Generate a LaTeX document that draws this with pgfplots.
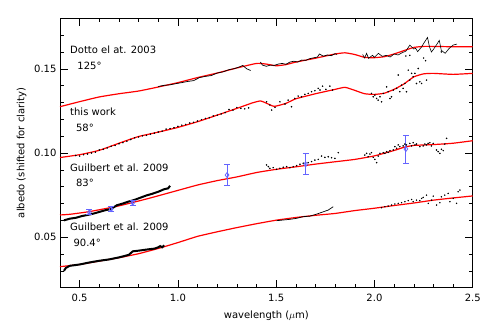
\documentclass[border=0pt]{standalone}
\usepackage{fontspec}
\setmainfont{DejaVu Sans}
\usepackage{pgfplots}
\pgfplotsset{compat=1.18}
\usetikzlibrary{calc}
\definecolor{modelred}{HTML}{FF0000}
\definecolor{obsblue}{HTML}{6464FF}

\begin{document}
\begin{tikzpicture}
\begin{axis}[
  scale only axis,
  width=412.7pt, height=269.4pt,
  xmin=0.4, xmax=2.5, ymin=0.02, ymax=0.18,
  xtick={0.5,1.0,1.5,2.0,2.5},
  minor xtick={0.4,0.6,0.7,0.8,0.9,1.1,1.2,1.3,1.4,1.6,1.7,1.8,1.9,2.1,2.2,2.3,2.4},
  ytick={0.05,0.10,0.15},
  minor ytick={0.02,0.03,0.04,0.06,0.07,0.08,0.09,0.11,0.12,0.13,0.14,0.16,0.17},
  tick align=inside,
  major tick length=8pt, minor tick length=4pt,
  every tick/.style={black, line width=0.5pt},
  axis line style={line width=0.6pt},
  /pgf/number format/assume math mode=true,
  xticklabel style={/pgf/number format/.cd, fixed, fixed zerofill, precision=1, /tikz/.cd, yshift=-3pt},
  yticklabel style={/pgf/number format/.cd, fixed, fixed zerofill, precision=2},
  xlabel={wavelength ($\mu$m)},
  ylabel={albedo (shifted for clarity)},
  xlabel style={at={(axis description cs:0.5,0)}, anchor=center, yshift=-28pt},
  ylabel style={at={(axis description cs:-0.093,0.5)}, anchor=center},
  clip=false,
]

% model curves
\addplot[modelred, line width=1.2pt, smooth, tension=0.3] coordinates {
(0.40,0.1275)(0.50,0.1305)(0.60,0.1333)(0.70,0.1352)(0.80,0.1368)(0.90,0.1392)
(1.00,0.1418)(1.10,0.1448)(1.20,0.1475)(1.30,0.1505)(1.40,0.1532)(1.45,0.1528)
(1.50,0.1518)(1.55,0.1525)(1.60,0.1540)(1.70,0.1563)(1.80,0.1588)(1.85,0.1595)
(1.90,0.1585)(1.95,0.1568)(2.00,0.1566)(2.05,0.1572)(2.10,0.1588)(2.15,0.1608)
(2.20,0.1627)(2.25,0.1633)(2.30,0.1633)(2.40,0.1631)(2.50,0.1631)};
\addplot[modelred, line width=1.2pt, smooth, tension=0.3] coordinates {
(0.40,0.0973)(0.50,0.0990)(0.60,0.1016)(0.70,0.1058)(0.80,0.1098)(0.90,0.1124)
(1.00,0.1152)(1.10,0.1186)(1.20,0.1225)(1.30,0.1265)(1.38,0.1298)(1.42,0.1309)
(1.45,0.1296)(1.49,0.1277)(1.55,0.1295)(1.60,0.1322)(1.70,0.1352)(1.80,0.1378)
(1.85,0.1390)(1.90,0.1372)(1.95,0.1352)(2.00,0.1348)(2.05,0.1355)(2.10,0.1378)
(2.15,0.1410)(2.20,0.1452)(2.25,0.1470)(2.30,0.1473)(2.40,0.1467)(2.50,0.1473)};
\addplot[modelred, line width=1.2pt, smooth, tension=0.3] coordinates {
(0.40,0.0632)(0.45,0.0636)(0.55,0.0652)(0.70,0.0686)(0.85,0.0730)(1.00,0.0778)
(1.10,0.0810)(1.20,0.0836)(1.30,0.0858)(1.40,0.0884)(1.50,0.0903)(1.60,0.0918)
(1.70,0.0934)(1.80,0.0948)(1.90,0.0962)(2.00,0.0983)(2.10,0.1015)(2.15,0.1034)
(2.20,0.1045)(2.30,0.1050)(2.40,0.1058)(2.50,0.1073)};
\addplot[modelred, line width=1.2pt, smooth, tension=0.3] coordinates {
(0.40,0.0325)(0.50,0.0338)(0.60,0.0358)(0.70,0.0378)(0.80,0.0402)(0.90,0.0433)
(1.00,0.0468)(1.10,0.0505)(1.20,0.0532)(1.30,0.0557)(1.40,0.0580)(1.50,0.0601)
(1.60,0.0617)(1.70,0.0630)(1.80,0.0641)(1.90,0.0658)(2.00,0.0672)(2.10,0.0688)
(2.20,0.0703)(2.30,0.0720)(2.40,0.0733)(2.50,0.0745)};

% Dotto et al. 2003 data
\addplot[black, line width=0.7pt] coordinates {
(0.90,0.1395)(0.93,0.1402)(0.96,0.1405)(0.99,0.1412)(1.02,0.1418)(1.05,0.1425)
(1.08,0.1430)(1.11,0.1448)(1.14,0.1455)(1.17,0.1460)(1.20,0.1475)(1.23,0.1482)
(1.26,0.1495)(1.29,0.1502)(1.31,0.1510)(1.33,0.1520)(1.35,0.1500)(1.37,0.1490)};
\addplot[black, line width=0.7pt] coordinates {
(1.42,0.1540)(1.43,0.1522)(1.45,0.1515)(1.47,0.1522)(1.49,0.1520)(1.51,0.1528)
(1.53,0.1532)(1.55,0.1527)(1.57,0.1540)(1.59,0.1545)(1.61,0.1540)(1.63,0.1552)
(1.65,0.1550)(1.67,0.1560)(1.69,0.1565)(1.71,0.1570)(1.72,0.1588)(1.74,0.1575)
(1.76,0.1582)(1.78,0.1578)(1.80,0.1590)(1.81,0.1585)};
\addplot[black, line width=0.6pt] coordinates {
(1.94,0.1585)(1.95,0.1564)(1.96,0.1592)(1.97,0.1562)(1.99,0.1580)(2.00,0.1568)
(2.02,0.1592)(2.04,0.1574)(2.06,0.1580)(2.08,0.1570)(2.10,0.1588)(2.12,0.1582)
(2.14,0.1595)(2.16,0.1605)(2.18,0.1641)(2.20,0.1618)(2.21,0.1621)(2.22,0.1602)
(2.24,0.1630)(2.25,0.1650)(2.27,0.1686)(2.28,0.1631)(2.29,0.1600)(2.30,0.1615)
(2.32,0.1650)(2.33,0.1669)(2.34,0.1610)(2.36,0.1592)(2.38,0.1621)(2.40,0.1641)
(2.42,0.1647)};
\addplot[black, only marks, mark=*, mark size=0.5pt] coordinates {
(2.16,0.1576)(2.18,0.1580)(2.25,0.1564)(2.26,0.1548)(2.34,0.1600)};

% this work data
\addplot[black, only marks, mark=*, mark size=0.55pt] coordinates {
(0.48,0.0985)(0.50,0.0982)(0.52,0.0990)(0.54,0.0994)(0.56,0.1000)(0.58,0.1005)
(0.60,0.1018)(0.62,0.1022)(0.64,0.1030)(0.66,0.1040)(0.68,0.1045)(0.70,0.1055)
(0.72,0.1062)(0.74,0.1070)(0.76,0.1080)(0.78,0.1090)(0.80,0.1095)(0.82,0.1102)
(0.84,0.1105)(0.86,0.1112)(0.88,0.1118)(0.90,0.1125)(0.92,0.1130)(0.94,0.1142)
(0.96,0.1145)(0.98,0.1150)(1.00,0.1158)(1.02,0.1165)(1.04,0.1170)(1.06,0.1178)
(1.08,0.1182)(1.10,0.1190)(1.12,0.1198)(1.14,0.1205)(1.16,0.1210)(1.18,0.1220)
(1.20,0.1225)(1.22,0.1232)(1.24,0.1240)(1.26,0.1258)(1.28,0.1255)(1.30,0.1270)
(1.32,0.1265)(1.34,0.1262)(1.36,0.1268)
(1.451,0.1304)(1.468,0.1285)(1.477,0.1255)(1.494,0.1271)(1.519,0.1304)(1.545,0.1291)
(1.561,0.1314)(1.578,0.1275)(1.595,0.1324)(1.612,0.1338)(1.629,0.1334)(1.646,0.1348)
(1.663,0.1354)(1.680,0.1364)(1.697,0.1370)(1.714,0.1384)(1.723,0.1374)(1.736,0.1397)
(1.753,0.1378)(1.773,0.1397)(1.787,0.1374)
(1.985,0.1354)(1.994,0.1334)(2.002,0.1344)(2.011,0.1324)(2.019,0.1314)(2.028,0.1334)
(2.036,0.1304)(2.045,0.1354)(2.062,0.1393)(2.070,0.1364)(2.079,0.1324)(2.087,0.1334)
(2.096,0.1374)(2.113,0.1384)(2.121,0.1463)(2.129,0.1364)(2.138,0.1403)(2.146,0.1384)
(2.155,0.1413)(2.163,0.1364)(2.172,0.1492)(2.180,0.1433)(2.189,0.1473)(2.197,0.1453)
(2.206,0.1473)(2.214,0.1413)(2.223,0.1502)(2.231,0.1423)(2.240,0.1413)(2.265,0.1433)};

% Guilbert et al. 2009, 83 deg
\addplot[black, line width=2pt] coordinates {
(0.42,0.0600)(0.45,0.0610)(0.48,0.0615)(0.51,0.0625)(0.54,0.0632)(0.57,0.0640)
(0.60,0.0650)(0.63,0.0660)(0.66,0.0668)(0.69,0.0690)(0.72,0.0700)(0.75,0.0712)
(0.78,0.0722)(0.81,0.0735)(0.84,0.0748)(0.87,0.0758)(0.90,0.0770)(0.93,0.0785)
(0.95,0.0790)(0.96,0.0805)};
\addplot[black, only marks, mark=*, mark size=0.55pt] coordinates {
(1.451,0.0929)(1.460,0.0919)(1.468,0.0909)(1.485,0.0913)(1.502,0.0903)(1.519,0.0909)
(1.536,0.0915)(1.553,0.0919)(1.570,0.0913)(1.587,0.0919)(1.604,0.0925)(1.621,0.0933)
(1.638,0.0939)(1.663,0.0943)(1.680,0.0949)(1.697,0.0958)(1.714,0.0962)(1.731,0.0982)
(1.748,0.0974)(1.765,0.0978)(1.782,0.0972)(1.799,0.0968)(1.816,0.1002)
(1.951,0.0988)(1.960,0.0998)(1.968,0.0978)(1.977,0.0994)(1.985,0.1002)(1.994,0.0974)
(2.002,0.0962)(2.011,0.0943)(2.019,0.0982)(2.028,0.0998)(2.045,0.1002)(2.053,0.0998)
(2.062,0.1008)(2.070,0.1004)(2.079,0.1014)(2.096,0.1018)(2.104,0.1038)(2.113,0.1028)
(2.121,0.1048)(2.129,0.1038)(2.146,0.1042)(2.155,0.1053)(2.163,0.1048)(2.180,0.1057)
(2.189,0.1042)(2.197,0.1061)(2.206,0.1048)(2.214,0.1053)(2.231,0.1038)(2.248,0.1042)
(2.257,0.1053)(2.265,0.1048)(2.273,0.1057)(2.282,0.1061)(2.290,0.1042)(2.299,0.1057)
(2.316,0.1018)(2.324,0.1008)(2.333,0.0998)(2.341,0.1022)(2.350,0.1014)(2.358,0.1053)
(2.367,0.1087)};
\addplot[obsblue, line width=0.8pt, mark=diamond, mark size=2.5pt, only marks,
  error bars/.cd, y dir=both, y explicit,
  error bar style={obsblue, line width=0.8pt},
  error mark options={rotate=90, mark size=3pt, obsblue, line width=0.8pt}]
  coordinates {
  (0.55,0.0648) +- (0,0.0015)
  (0.66,0.0667) +- (0,0.0015)
  (0.77,0.0705) +- (0,0.0015)
  (1.25,0.0869) +- (0,0.0062)
  (1.65,0.0933) +- (0,0.0062)
  (2.16,0.1024) +- (0,0.0083)};

% Guilbert et al. 2009, 90.4 deg
\addplot[black, line width=2pt] coordinates {
(0.42,0.0300)(0.43,0.0318)(0.45,0.0330)(0.50,0.0338)(0.55,0.0350)(0.60,0.0360)
(0.65,0.0368)(0.70,0.0380)(0.75,0.0395)(0.77,0.0416)(0.80,0.0420)(0.85,0.0428)
(0.88,0.0432)(0.90,0.0440)(0.91,0.0447)(0.92,0.0440)(0.93,0.0452)};
\addplot[black, line width=0.7pt] coordinates {
(1.502,0.0598)(1.536,0.0602)(1.570,0.0606)(1.604,0.0612)(1.638,0.0622)(1.672,0.0625)
(1.706,0.0637)(1.740,0.0651)(1.765,0.0661)(1.790,0.0681)};
\addplot[black, only marks, mark=*, mark size=0.5pt] coordinates {
(2.036,0.0675)(2.053,0.0681)(2.070,0.0685)(2.087,0.0691)(2.104,0.0697)(2.121,0.0701)
(2.138,0.0705)(2.155,0.0711)(2.172,0.0717)(2.189,0.0724)(2.197,0.0711)(2.214,0.0720)
(2.231,0.0717)(2.240,0.0730)(2.248,0.0736)(2.265,0.0750)(2.274,0.0701)(2.291,0.0720)
(2.299,0.0744)(2.316,0.0691)(2.333,0.0705)(2.341,0.0740)(2.358,0.0750)(2.375,0.0760)
(2.384,0.0711)(2.401,0.0730)(2.418,0.0701)(2.426,0.0770)(2.435,0.0780)};

% labels
\node[anchor=west, inner sep=0pt] at (axis cs:0.451,0.1612) {Dotto el at. 2003};
\node[anchor=west, inner sep=0pt] at (axis cs:0.488,0.1515) {125°};
\node[anchor=west, inner sep=0pt] at (axis cs:0.451,0.1245) {this work};
\node[anchor=west, inner sep=0pt] at (axis cs:0.481,0.1147) {58°};
\node[anchor=west, inner sep=0pt] at (axis cs:0.451,0.0912) {Guilbert et al. 2009};
\node[anchor=west, inner sep=0pt] at (axis cs:0.481,0.0820) {83°};
\node[anchor=west, inner sep=0pt] at (axis cs:0.451,0.0562) {Guilbert et al. 2009};
\node[anchor=west, inner sep=0pt] at (axis cs:0.468,0.0467) {90.4°};
\end{axis}
\pgfresetboundingbox
\path[use as bounding box] ($(current axis.south west)+(-60pt,-39.3pt)$) rectangle ($(current axis.north east)+(18.3pt,18.3pt)$);
\end{tikzpicture}
\end{document}
